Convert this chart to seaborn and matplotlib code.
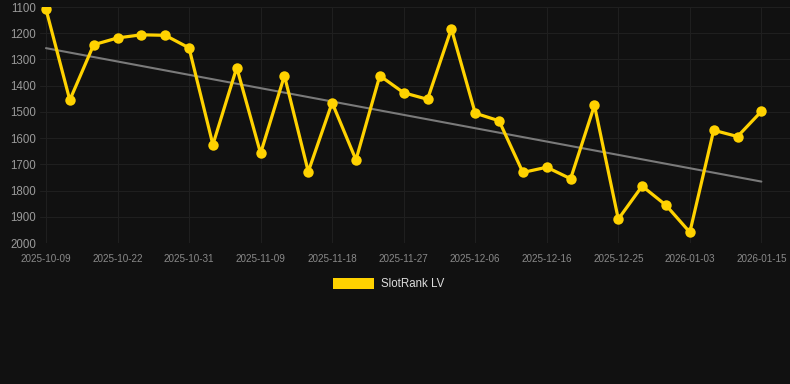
import numpy as np
import pandas as pd
import matplotlib
matplotlib.use('Agg')
import matplotlib.pyplot as plt
import seaborn as sns
from matplotlib.patches import Patch

# rank values (lower rank number = better, axis inverted)
ranks = [1108, 1455, 1244, 1218, 1206, 1208, 1256, 1625, 1331, 1658,
         1362, 1728, 1465, 1683, 1362, 1427, 1452, 1183, 1505, 1534,
         1731, 1711, 1755, 1475, 1909, 1783, 1856, 1959, 1570, 1594, 1498]
tick_labels = ['2025-10-09', '2025-10-22', '2025-10-31', '2025-11-09', '2025-11-18',
               '2025-11-27', '2025-12-06', '2025-12-16', '2025-12-25', '2026-01-03',
               '2026-01-15']
y_ticks = [1100, 1200, 1300, 1400, 1500, 1600, 1700, 1800, 1900, 2000]
series_name = 'SlotRank LV'

data = pd.DataFrame({'idx': np.arange(len(ranks)), 'rank': ranks})

bg = '#111111'
gold = '#FFD200'

sns.set_style('dark')
plt.rcParams['font.family'] = ['Liberation Sans', 'DejaVu Sans']

fig = plt.figure(figsize=(7.9, 3.84), dpi=100, facecolor=bg)
ax = fig.add_axes([40 / 790, 141 / 384, 750 / 790, 236 / 384])
ax.set_facecolor(bg)

# trend line (least squares fit)
slope, intercept = np.polyfit(data['idx'], data['rank'], 1)
data['trend'] = slope * data['idx'] + intercept
sns.lineplot(x='idx', y='trend', data=data, ax=ax, color='#7a7a7a', linewidth=1.5)

sns.lineplot(x='idx', y='rank', data=data, ax=ax, color=gold, linewidth=2.3,
             marker='o', markersize=7.5, markeredgewidth=0, markeredgecolor=gold)

ax.set_xlim(-0.25, 31.2)
ax.set_ylim(2000, 1100)
ax.set_yticks(y_ticks)
ax.set_xticks(range(0, len(ranks), 3))
ax.set_xticklabels(tick_labels)
ax.tick_params(axis='y', colors='#9a9a9a', labelsize=8.3, length=0, pad=3)
ax.tick_params(axis='x', colors='#8a8a8a', labelsize=7.1, length=0, pad=8)
ax.grid(True, color='#1f1f1f', linewidth=0.8)
for s in ax.spines.values():
    s.set_visible(False)
ax.set_xlabel('')
ax.set_ylabel('')

fig.legend(handles=[Patch(facecolor=gold, edgecolor='none', label=series_name)],
           loc='center', bbox_to_anchor=(0.492, 1 - 284 / 384), frameon=False,
           fontsize=8.3, labelcolor='#dddddd', handlelength=3.6, handleheight=1.1,
           handletextpad=0.6)

plt.savefig('out.png', facecolor=bg)
